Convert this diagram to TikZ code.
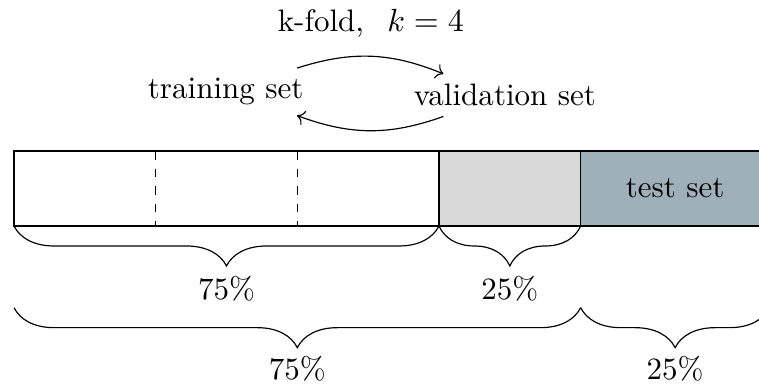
\documentclass[tikz,border=0pt]{standalone}
\usepackage{amsmath,xcolor}
\definecolor{valgray}{RGB}{217,217,217}
\definecolor{testblue}{RGB}{160,176,186}
\usetikzlibrary{arrows.meta,positioning,decorations.pathreplacing,calc}

\begin{document}
\begin{tikzpicture}[
  font=\fontsize{10.6}{12.7}\selectfont,
  fold/.style={minimum width=1.7cm,minimum height=0.9cm,inner sep=0pt,outer sep=0pt},
  splitbrace/.style={decorate,decoration={brace,mirror,amplitude=0.48cm}}
]
  \useasboundingbox (-0.168,-1.93) rectangle (8.94,2.712);

  % Data bar
  \node[fold,anchor=south west] (fold1) at (0,0) {};
  \node[fold,right=0cm of fold1] (fold2) {};
  \node[fold,right=0cm of fold2] (fold3) {};
  \node[fold,draw,fill=valgray,right=0cm of fold3] (val) {};
  \node[fold,draw,fill=testblue,minimum width=2.267cm,right=0cm of val] (test) {test set};
  \draw (fold1.south west) rectangle (fold3.north east);
  \draw[dashed] (fold1.north east) -- (fold1.south east);
  \draw[dashed] (fold2.north east) -- (fold2.south east);

  % Cross validation loop
  \node (train) at (2.54,1.61) {training set};
  \node (valid) at (5.89,1.57) {validation set};
  \draw[->] ([xshift=-0.2cm]train.north east) to[bend left=20]
    node[midway,above=0.1cm] (kfold) {k-fold,\hspace{0.75em}$k = 4$} ([xshift=0.48cm]valid.north west);
  \draw[->] ([xshift=0.48cm]valid.south west) to[bend left=20] ([xshift=-0.2cm]train.south east);

  % Splits
  \draw[splitbrace] (fold1.south west) -- (fold3.south east)
    node[midway,below=0.48cm] {75\%};
  \draw[splitbrace] (val.south west) -- (val.south east)
    node[midway,below=0.48cm] {25\%};
  \draw[splitbrace] ([yshift=-0.98cm]fold1.south west) -- ([yshift=-0.98cm]val.south east)
    node[midway,below=0.46cm] {75\%};
  \draw[splitbrace] ([yshift=-0.98cm]test.south west) -- ([yshift=-0.98cm]test.south east)
    node[midway,below=0.46cm] {25\%};
\end{tikzpicture}
\end{document}
